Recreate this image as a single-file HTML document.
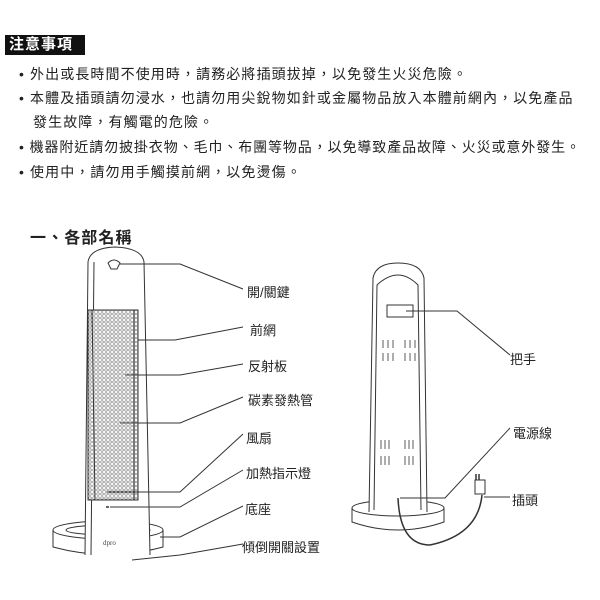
<!DOCTYPE html>
<html><head><meta charset="utf-8"><style>
html,body{margin:0;padding:0;background:#fff;}
body{width:600px;height:600px;overflow:hidden;position:relative;font-family:"Liberation Sans","Noto Sans CJK TC",sans-serif;}
.t{position:absolute;font-size:14px;color:#222;white-space:nowrap;letter-spacing:1.1px;}
.hd{position:absolute;left:5px;top:35px;width:80px;height:20px;background:#111;color:#fff;font-size:15px;font-weight:bold;line-height:20px;padding-left:4px;box-sizing:border-box;letter-spacing:1px;}
.lb{position:absolute;font-size:13px;color:#222;white-space:nowrap;}
</style></head><body>
<div class="hd">注意事項</div>
<div class="t" style="left:19px;top:64px">• 外出或長時間不使用時，請務必將插頭拔掉，以免發生火災危險。</div>
<div class="t" style="left:19px;top:88px">• 本體及插頭請勿浸水，也請勿用尖銳物如針或金屬物品放入本體前網內，以免產品</div>
<div class="t" style="left:33px;top:112px">發生故障，有觸電的危險。</div>
<div class="t" style="left:19px;top:137px;letter-spacing:0.9px">• 機器附近請勿披掛衣物、毛巾、布團等物品，以免導致產品故障、火災或意外發生。</div>
<div class="t" style="left:19px;top:162px">• 使用中，請勿用手觸摸前網，以免燙傷。</div>
<div class="t" style="left:30px;top:224px;font-size:16px;font-weight:bold;">一、各部名稱</div>

<svg width="600" height="600" style="position:absolute;left:0;top:0" fill="none" stroke="#333" stroke-width="1">
<defs><pattern id="m" width="4" height="4" patternUnits="userSpaceOnUse"><rect width="4" height="4" fill="#fff" stroke="none"/><circle cx="2" cy="2" r="1.3" fill="none" stroke="#777" stroke-width="0.7"/></pattern></defs>
<ellipse cx="108" cy="530" rx="55" ry="9"/>
<path d="M53 530 V547 Q108 562 163 547 V530"/>
<ellipse cx="108" cy="530" rx="42" ry="5"/>
<path d="M85 555 L88 262 Q90 248 115 247 Q142 248 144 262 L150 555" fill="#fff"/>
<path d="M91 555 L94 262"/>
<rect x="88" y="310" width="50" height="190" fill="url(#m)"/>
<path d="M92 310 L95 500 M134 310 L134 500"/>
<path d="M88 500 H138"/>
<path d="M108 263 q6 -6 12 0 l-3 6 h-6 z"/>
<text x="103" y="545" font-size="7" fill="#444" stroke="none" font-family="Liberation Serif">dpro</text>
<path d="M106 507 h3" stroke-width="1.5"/>
<path d="M120 264 H180 L243 289"/>
<path d="M138 340 H175 L243 327"/>
<path d="M125 375 H180 L243 364"/>
<path d="M120 423 H180 L243 397"/>
<path d="M107 492 H180 L243 434"/>
<path d="M110 507 H180 L243 470"/>
<path d="M160 537 H180 L243 506"/>
<path d="M132 560 L180 555 L243 544"/>
<ellipse cx="398" cy="508" rx="46" ry="8"/>
<path d="M352 508 V522 Q398 538 444 522 V508"/>
<path d="M369 512 L373 278 Q376 263 398 263 Q421 263 424 278 L427 512" fill="#fff"/>
<path d="M374 510 L377 285 Q398 265 418 285 L421 510"/>
<rect x="387" y="305" width="26" height="12"/>
<g stroke-width="0.8">
<path d="M383 340 v8 M388 340 v8 M393 340 v8 M405 340 v8 M410 340 v8 M415 340 v8"/>
<path d="M383 353 v8 M388 353 v8 M393 353 v8 M405 353 v8 M410 353 v8 M415 353 v8"/>
<path d="M381 440 v9 M385 440 v9 M389 440 v9 M405 440 v9 M409 440 v9 M413 440 v9"/>
<path d="M381 456 v9 M385 456 v9 M389 456 v9 M405 456 v9 M409 456 v9 M413 456 v9"/>
</g>
<path d="M398 498 Q400 545 430 545 Q478 535 482 495" stroke-width="1.5"/>
<rect x="475" y="480" width="10" height="14" fill="#fff"/>
<path d="M476 480 v-6 M479 480 v-6" stroke-width="1.5"/>
<path d="M406 311 H457 L510 355"/>
<path d="M400 498 H445 L510 428"/>
<path d="M484 497 H510"/>
</svg>
<div class="lb" style="left:247px;top:282px">開/關鍵</div>
<div class="lb" style="left:250px;top:320px">前網</div>
<div class="lb" style="left:248px;top:356px">反射板</div>
<div class="lb" style="left:248px;top:390px">碳素發熱管</div>
<div class="lb" style="left:246px;top:428px">風扇</div>
<div class="lb" style="left:246px;top:463px">加熱指示燈</div>
<div class="lb" style="left:245px;top:499px">底座</div>
<div class="lb" style="left:242px;top:537px">傾倒開關設置</div>
<div class="lb" style="left:510px;top:349px">把手</div>
<div class="lb" style="left:513px;top:423px">電源線</div>
<div class="lb" style="left:512px;top:490px">插頭</div>
</body></html>
